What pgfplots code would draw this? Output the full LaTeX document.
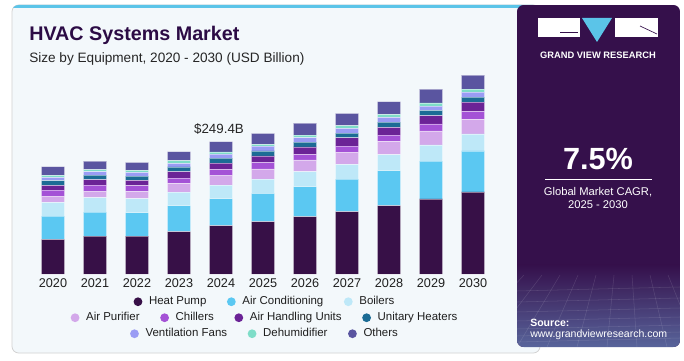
\documentclass[border=0pt]{standalone}
\usepackage{pgfplots}
\pgfplotsset{compat=1.18}
\usepackage{pgfplotstable}
\usepackage{fontspec}
\setmainfont{Liberation Sans}

\definecolor{hp}{HTML}{371047}
\definecolor{ac}{HTML}{5BC8F2}
\definecolor{boil}{HTML}{BEE8F8}
\definecolor{ap}{HTML}{D3A8EA}
\definecolor{ch}{HTML}{A452D6}
\definecolor{ahu}{HTML}{6B2396}
\definecolor{uh}{HTML}{1C6C95}
\definecolor{vf}{HTML}{9A9CF4}
\definecolor{deh}{HTML}{7EDDC8}
\definecolor{oth}{HTML}{5A55A0}
\definecolor{panelbg}{HTML}{F3F8FB}
\definecolor{stripe}{HTML}{5BC4E8}
\definecolor{purp}{HTML}{35104B}
\definecolor{titlec}{HTML}{2C0B45}

\pgfplotstableread{
x hp ac boil ap ch ahu uh vf deh oth
0 65.4 43.9 25.8 11.9 11.3 8.9 8.9 6.2 3.8 16.4
1 71.6 45.2 27.0 12.6 11.3 10.0 8.9 6.2 3.8 16.4
2 71.6 43.9 26.4 13.2 11.3 10.0 8.1 7.0 3.8 15.1
3 79.7 49.0 25.8 16.4 10.0 11.9 8.9 7.0 5.1 17.0
4 91.0 50.9 25.8 17.5 11.9 11.9 9.4 7.5 4.3 19.2
5 98.6 53.3 27.0 19.4 11.9 12.6 9.4 8.9 3.2 20.7
6 108.0 56.6 28.3 22.1 10.7 13.8 8.9 8.9 4.3 22.6
7 117.4 61.6 27.7 23.2 11.3 15.6 8.9 8.9 5.1 23.2
8 128.7 66.0 30.2 25.1 11.9 14.5 10.0 8.9 5.7 23.9
9 141.4 71.6 30.2 26.4 13.2 15.6 10.0 8.1 6.2 25.8
10 154.6 77.3 32.0 27.7 15.1 17.5 9.4 9.4 5.7 26.4
}\datatable

\pgfplotsset{
  legrow/.style={
    at={(198pt,#1)}, anchor=center,
    scale only axis, width=1pt, height=1pt, hide axis,
    xmin=0, xmax=1, ymin=0, ymax=1,
    legend image code/.code={\fill[##1] (3.3pt,0pt) circle (3.3pt);},
    legend style={at={(0.5,0.5)}, anchor=center, draw=none, fill=none,
      legend columns=-1, font=\fontsize{8.6}{10}\selectfont, text=black!88,
      inner sep=0pt, outer sep=0pt, nodes={inner sep=0pt},
      /tikz/every odd column/.append style={column sep=5pt},
      /tikz/every even column/.append style={column sep=15.4pt}},
  }
}

\begin{document}
\begin{tikzpicture}[x=0.75pt,y=0.75pt]
\useasboundingbox (0,0) rectangle (684,360);
\fill[white] (0,0) rectangle (684,360);
% light panel
\fill[panelbg, draw=black!18, line width=0.6pt, rounded corners=5] (12,7) rectangle (540,355);
\begin{scope}
  \clip[rounded corners=5] (12,7) rectangle (540,355);
  \fill[stripe] (10,352) rectangle (542,356);
\end{scope}
% right panel
\begin{scope}
  \clip[rounded corners=5] (517,13) rectangle (680,355);
  \fill[purp] (517,13) rectangle (680,355);
  \shade[top color=purp, bottom color={rgb,255:red,88;green,100;blue,155}] (517,13) rectangle (680,95);
  \foreach \yy in {18,24,31,39,48,58,69} {\draw[white, opacity=0.12, line width=0.4pt] (517,\yy) -- (680,\yy+4);}
  \foreach \xx in {-60,-30,0,30,60,90,120,150,180,210,240} {\draw[white, opacity=0.12, line width=0.4pt] (517+\xx,13) -- (560+\xx*0.6,85);}
\end{scope}
% logo
\fill[white] (538,323) rectangle (580,342);
\fill[white] (615,323) rectangle (658,342);
\fill[stripe] (582,342) -- (612,342) -- (597,318) -- cycle;
\draw[purp, line width=0.5pt] (560,328) -- (578,328);
\draw[purp, line width=0.5pt] (640,334) -- (657,326);
\node[anchor=center, text=white, font=\bfseries\fontsize{7}{8}\selectfont] at (598,304.5) {GRAND VIEW RESEARCH};
% CAGR
\node[anchor=base, text=white, font=\bfseries\fontsize{23}{26}\selectfont] at (598,190) {7.5\%};
\draw[white, line width=0.7pt] (545,181) -- (652,181);
\node[anchor=base, text=white, font=\fontsize{8.4}{10}\selectfont] at (598,164) {Global Market CAGR,};
\node[anchor=base, text=white, font=\fontsize{8.4}{10}\selectfont] at (598,151) {2025 - 2030};
\node[anchor=base west, text=white, font=\bfseries\fontsize{7.9}{9}\selectfont, inner sep=0pt] at (530,33) {Source:};
\node[anchor=base west, text=white, font=\fontsize{7.9}{9}\selectfont, inner sep=0pt] at (530,22) {www.grandviewresearch.com};
% titles
\node[anchor=base west, inner sep=0pt, text=titlec, font=\bfseries\fontsize{14.8}{17}\selectfont] at (29,319.5) {HVAC Systems Market};
\node[anchor=base west, inner sep=0pt, text=black!85, font=\fontsize{10.2}{12}\selectfont] at (29,297.5) {Size by Equipment, 2020 - 2030 (USD Billion)};

\begin{axis}[
  at={(24pt,64.5pt)}, anchor=south west,
  scale only axis, width=346.5pt, height=159.15pt,
  xmin=-0.5, xmax=10.5, ymin=0, ymax=400,
  ybar stacked, bar width=17.5pt,
  axis line style={draw=none}, ytick=\empty,
  xtick={0,1,2,3,4,5,6,7,8,9,10},
  xticklabels={2020,2021,2022,2023,2024,2025,2026,2027,2028,2029,2030},
  major tick length=0pt,
  xticklabel style={font=\fontsize{9.5}{11}\selectfont, text=black!88},
  /pgf/number format/assume math mode=true,
  clip=false,
  every axis plot/.append style={draw=white, draw opacity=0.45, line width=0.4pt},
]
\addplot[fill=hp] table[x=x, y=hp] {\datatable};
\addplot[fill=ac] table[x=x, y=ac] {\datatable};
\addplot[fill=boil] table[x=x, y=boil] {\datatable};
\addplot[fill=ap] table[x=x, y=ap] {\datatable};
\addplot[fill=ch] table[x=x, y=ch] {\datatable};
\addplot[fill=ahu] table[x=x, y=ahu] {\datatable};
\addplot[fill=uh] table[x=x, y=uh] {\datatable};
\addplot[fill=vf] table[x=x, y=vf] {\datatable};
\addplot[fill=deh] table[x=x, y=deh] {\datatable};
\addplot[fill=oth] table[x=x, y=oth] {\datatable};
\node[anchor=base, font=\fontsize{10}{12}\selectfont, text=black!85] at (axis cs:4,249.4) [yshift=6.5pt, xshift=-1.5pt] {\$249.4B};
\end{axis}

\begin{axis}[legrow=43.7pt]
\addlegendimage{fill=hp, draw=none}\addlegendentry{Heat Pump}
\addlegendimage{fill=ac, draw=none}\addlegendentry{Air Conditioning}
\addlegendimage{fill=boil, draw=none}\addlegendentry{Boilers}
\end{axis}
\begin{axis}[legrow=31.7pt]
\addlegendimage{fill=ap, draw=none}\addlegendentry{Air Purifier}
\addlegendimage{fill=ch, draw=none}\addlegendentry{Chillers}
\addlegendimage{fill=ahu, draw=none}\addlegendentry{Air Handling Units}
\addlegendimage{fill=uh, draw=none}\addlegendentry{Unitary Heaters}
\end{axis}
\begin{axis}[legrow=19.7pt]
\addlegendimage{fill=vf, draw=none}\addlegendentry{Ventilation Fans}
\addlegendimage{fill=deh, draw=none}\addlegendentry{Dehumidifier}
\addlegendimage{fill=oth, draw=none}\addlegendentry{Others}
\end{axis}
\end{tikzpicture}
\end{document}
